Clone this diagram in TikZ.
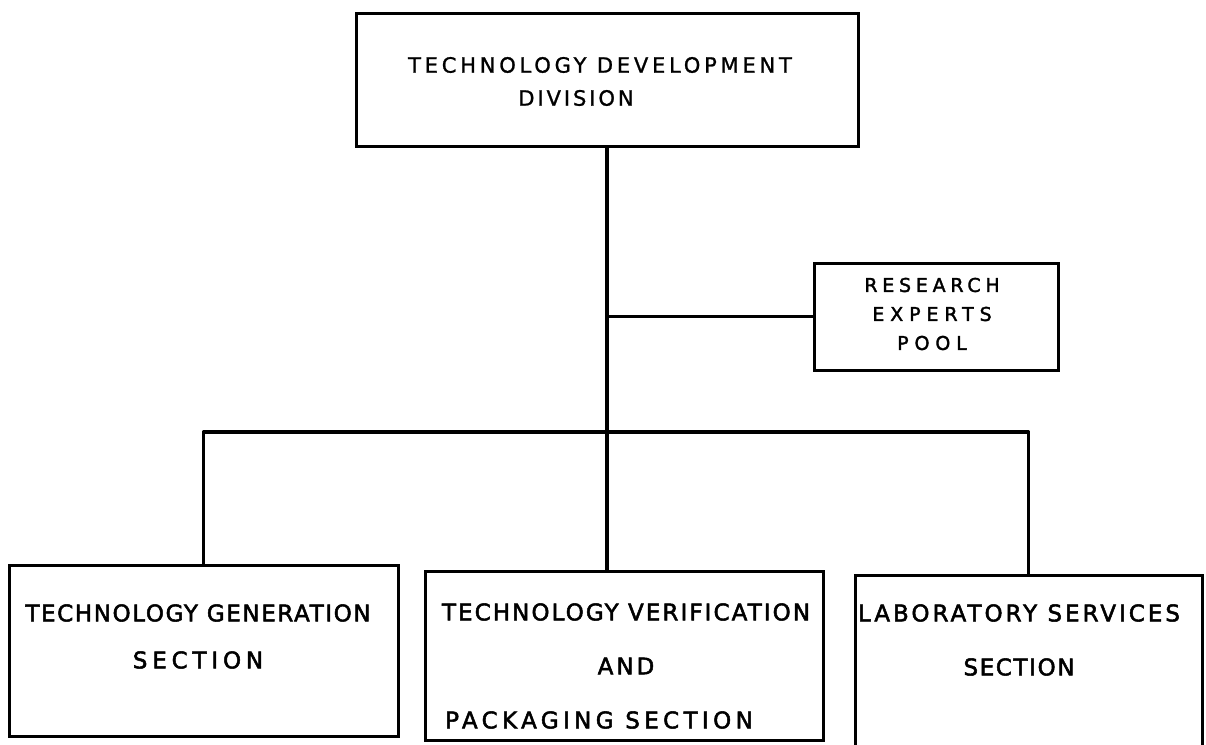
\documentclass[tikz,border=0pt]{standalone}
\usepackage{fontspec}
\setmainfont{DejaVu Sans}
% tracked lettering: \trk{spacing}{text}
\newcommand\trk[2]{{\addfontfeature{LetterSpace=#1}#2}}
\begin{document}
\begin{tikzpicture}[x=1pt,y=-1pt,
  unit/.style={draw, line width=3pt, rectangle, inner sep=0pt},
  lbl/.style={align=center, inner sep=0pt},
  link/.style={line width=3.2pt, line join=round, line cap=round}]
\useasboundingbox (0,0) rectangle (1206,744);

% division and pool
\node[unit, minimum width=502pt, minimum height=133pt] (tdd) at (607,79.5) {};
\node[lbl, font=\fontsize{21}{33}\selectfont\addfontfeature{FakeBold=1.2}] (tddtxt) at (600,81.5)
  {\trk{18}{TECHNOLOGY DEVELOPMENT}\\\trk{14}{DIVISION}\hspace*{48pt}};

\node[unit, minimum width=244pt, minimum height=107pt] (pool) at (936,316.5) {};
\node[lbl, font=\fontsize{19}{29}\selectfont\addfontfeature{FakeBold=1.8}] (pooltxt) at (932,314)
  {\trk{25}{RESEARCH}\\\trk{31}{EXPERTS}\\\trk{31}{POOL}};

% sections
\node[unit, minimum width=389pt, minimum height=171pt] (gen) at (203.5,650.5) {};
\node[lbl, font=\fontsize{23}{47}\selectfont\addfontfeature{FakeBold=2.2}] (gentxt) at (198,636.5)
  {\trk{7}{TECHNOLOGY GENERATION}\\\trk{21}{SECTION}};

\node[unit, minimum width=398pt, minimum height=169pt] (ver) at (624,655.5) {};
\node[lbl, font=\fontsize{23}{54}\selectfont\addfontfeature{FakeBold=2.2}] (vertxt) at (626,666)
  {\trk{9}{TECHNOLOGY VERIFICATION}\\\trk{13}{AND}\\\trk{19}{PACKAGING SECTION}\hspace*{54pt}};

\node[unit, minimum width=347pt, minimum height=172pt] (lab) at (1028.5,661) {};
\node[lbl, font=\fontsize{23}{54}\selectfont\addfontfeature{FakeBold=2.2}] (labtxt) at (1019,640)
  {\trk{13}{LABORATORY SERVICES}\\\trk{7}{SECTION}};

% connectors
\coordinate (bus) at (607,432);
\draw[link] (tdd.south) -- (tdd.south |- ver.north);
\draw[link] (tdd.south |- pool.west) -- (pool.west);
\draw[link] (gen.north) |- (bus) -| (lab.north);
\end{tikzpicture}
\end{document}
